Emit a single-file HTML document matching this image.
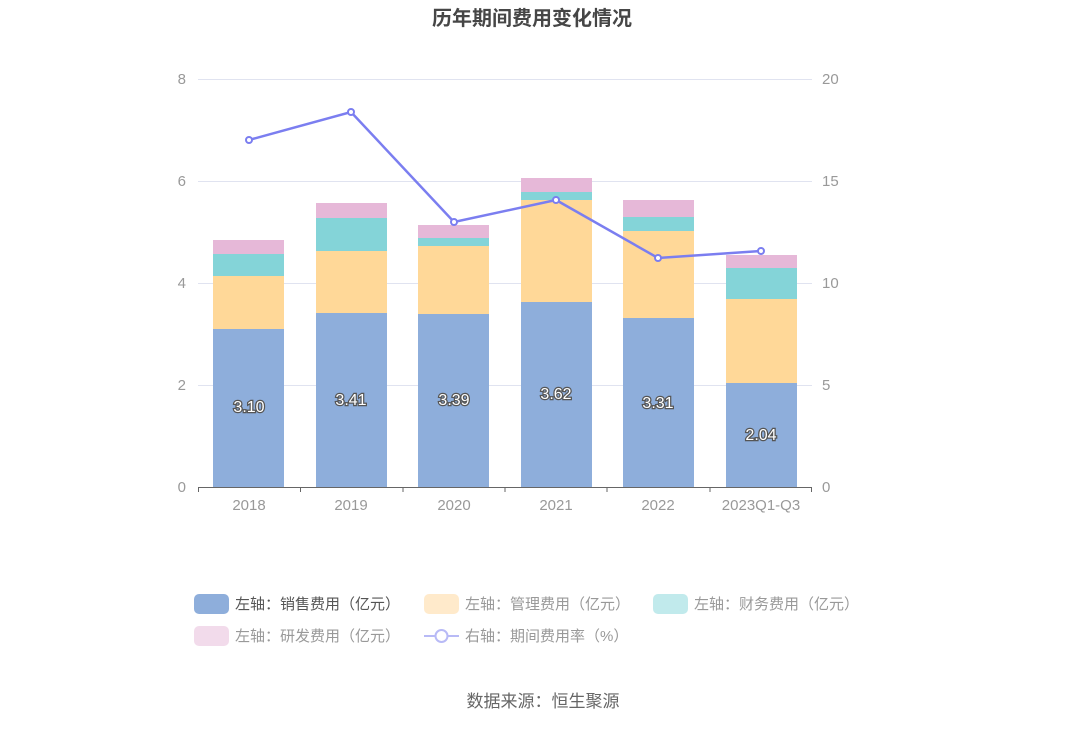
<!DOCTYPE html>
<html><head><meta charset="utf-8"><style>
body{margin:0;background:#fff;}
svg text{font-family:"Liberation Sans","Noto Sans CJK SC",sans-serif;}
</style></head><body>
<svg width="1086" height="728" viewBox="0 0 1086 728" xmlns="http://www.w3.org/2000/svg">
<text x="532" y="25" text-anchor="middle" font-size="20" font-weight="bold" fill="#464646">历年期间费用变化情况</text>
<g stroke="#e0e3f0" stroke-width="1">
<line x1="198" y1="79.5" x2="812" y2="79.5"/><line x1="198" y1="181.5" x2="812" y2="181.5"/>
<line x1="198" y1="283.5" x2="812" y2="283.5"/><line x1="198" y1="385.5" x2="812" y2="385.5"/>
</g>
<g font-size="15" fill="#999">
<text x="186" y="84" text-anchor="end">8</text><text x="186" y="186" text-anchor="end">6</text>
<text x="186" y="288" text-anchor="end">4</text><text x="186" y="390" text-anchor="end">2</text>
<text x="186" y="492" text-anchor="end">0</text>
<text x="822" y="84">20</text><text x="822" y="186">15</text><text x="822" y="288">10</text>
<text x="822" y="390">5</text><text x="822" y="492">0</text>
</g>
<g id="bars">
<!-- 2018 -->
<rect x="213" y="329" width="71" height="158" fill="#8eaedb"/><rect x="213" y="276" width="71" height="53" fill="#ffd898"/><rect x="213" y="254" width="71" height="22" fill="#84d4d8"/><rect x="213" y="240" width="71" height="14" fill="#e6b8d8"/>
<rect x="316" y="313" width="71" height="174" fill="#8eaedb"/><rect x="316" y="251" width="71" height="62" fill="#ffd898"/><rect x="316" y="218" width="71" height="33" fill="#84d4d8"/><rect x="316" y="203" width="71" height="15" fill="#e6b8d8"/>
<rect x="418" y="314" width="71" height="173" fill="#8eaedb"/><rect x="418" y="246" width="71" height="68" fill="#ffd898"/><rect x="418" y="238" width="71" height="8" fill="#84d4d8"/><rect x="418" y="225" width="71" height="13" fill="#e6b8d8"/>
<rect x="521" y="302" width="71" height="185" fill="#8eaedb"/><rect x="521" y="200" width="71" height="102" fill="#ffd898"/><rect x="521" y="192" width="71" height="8" fill="#84d4d8"/><rect x="521" y="178" width="71" height="14" fill="#e6b8d8"/>
<rect x="623" y="318" width="71" height="169" fill="#8eaedb"/><rect x="623" y="231" width="71" height="87" fill="#ffd898"/><rect x="623" y="217" width="71" height="14" fill="#84d4d8"/><rect x="623" y="200" width="71" height="17" fill="#e6b8d8"/>
<rect x="726" y="383" width="71" height="104" fill="#8eaedb"/><rect x="726" y="299" width="71" height="84" fill="#ffd898"/><rect x="726" y="268" width="71" height="31" fill="#84d4d8"/><rect x="726" y="255" width="71" height="13" fill="#e6b8d8"/>
</g>
<line x1="198" y1="487.5" x2="812" y2="487.5" stroke="#666" stroke-width="1"/>
<g stroke="#666"><line x1="198.5" y1="487" x2="198.5" y2="492"/><line x1="300.5" y1="487" x2="300.5" y2="492"/><line x1="403" y1="487" x2="403" y2="492"/><line x1="505" y1="487" x2="505" y2="492"/><line x1="607" y1="487" x2="607" y2="492"/><line x1="710" y1="487" x2="710" y2="492"/><line x1="811.5" y1="487" x2="811.5" y2="492"/></g>
<g font-size="15" fill="#999" text-anchor="middle">
<text x="249" y="510">2018</text><text x="351" y="510">2019</text><text x="454" y="510">2020</text>
<text x="556" y="510">2021</text><text x="658" y="510">2022</text><text x="761" y="510">2023Q1-Q3</text>
</g>
<g font-size="16" fill="#fff" stroke="#555" stroke-width="2.5" paint-order="stroke" text-anchor="middle">
<text x="249" y="412">3.10</text><text x="351" y="405">3.41</text><text x="454" y="405">3.39</text>
<text x="556" y="399">3.62</text><text x="658" y="408">3.31</text><text x="761" y="440">2.04</text>
</g>
<polyline points="249,140 351,112 454,222 556,200 658,258 761,251" fill="none" stroke="#7b7ef0" stroke-width="2.5"/>
<g fill="#fff" stroke="#7b7ef0" stroke-width="2">
<circle cx="249" cy="140" r="3"/><circle cx="351" cy="112" r="3"/><circle cx="454" cy="222" r="3"/>
<circle cx="556" cy="200" r="3"/><circle cx="658" cy="258" r="3"/><circle cx="761" cy="251" r="3"/>
</g>
<g font-size="15">
<rect x="194" y="594" width="35" height="20" rx="5" fill="#8eaedb"/><text x="235" y="609" fill="#555">左轴：销售费用（亿元）</text>
<rect x="424" y="594" width="35" height="20" rx="5" fill="#ffeacb"/><text x="465" y="609" fill="#999">左轴：管理费用（亿元）</text>
<rect x="653" y="594" width="35" height="20" rx="5" fill="#c1eaec"/><text x="694" y="609" fill="#999">左轴：财务费用（亿元）</text>
<rect x="194" y="626" width="35" height="20" rx="5" fill="#f2dbeb"/><text x="235" y="641" fill="#999">左轴：研发费用（亿元）</text>
<line x1="424" y1="636" x2="459" y2="636" stroke="#b8baf6" stroke-width="2"/><circle cx="441.5" cy="636" r="6" fill="#fff" stroke="#b8baf6" stroke-width="2"/>
<text x="465" y="641" fill="#999">右轴：期间费用率（%）</text>
</g>
<text x="543" y="707" text-anchor="middle" font-size="17" fill="#666">数据来源：恒生聚源</text>
</svg>
</body></html>
